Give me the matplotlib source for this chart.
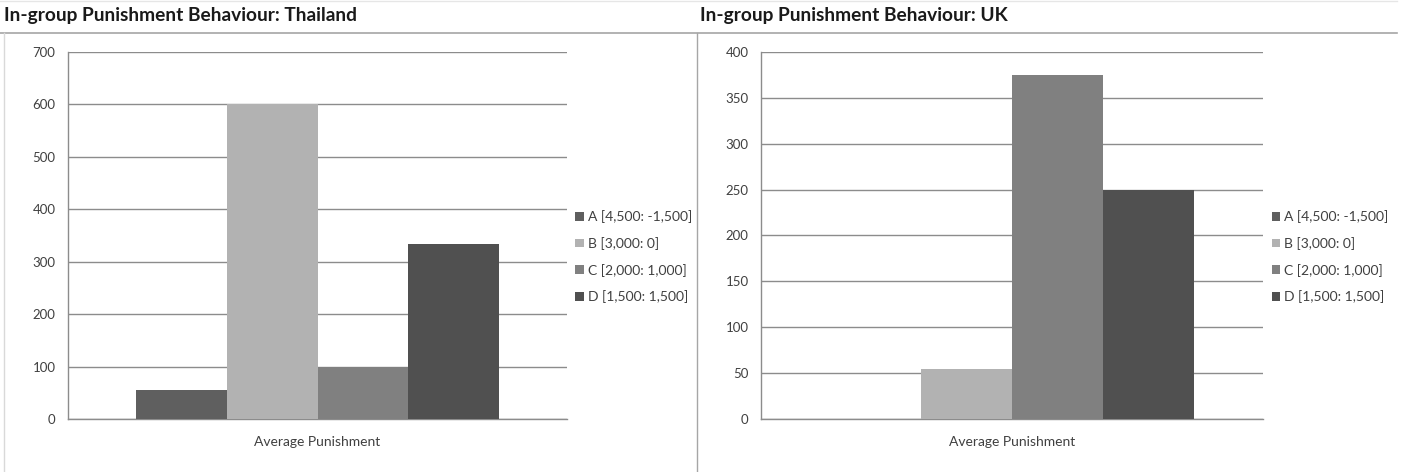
import matplotlib
matplotlib.use("Agg")
import matplotlib.pyplot as plt
from matplotlib.lines import Line2D
import numpy as np

plt.rcParams['font.family'] = ['Lato', 'DejaVu Sans']

# data
categories = ["Average Punishment"]
series_labels = ["A [4,500: -1,500]", "B [3,000: 0]", "C [2,000: 1,000]", "D [1,500: 1,500]"]
thailand_values = [55, 600, 100, 333]
uk_values = [0, 55, 375, 250]
colors = ["#5f5f5f", "#b2b2b2", "#808080", "#505050"]

W, H = 1403, 472
fig = plt.figure(figsize=(W / 100, H / 100), dpi=100)

grid_col = "#8c8c8c"
text_col = "#404040"


def px_axes(x0, x1, y0, y1):
    # pixel box (top-left origin) to figure fraction
    return [x0 / W, 1 - y1 / H, (x1 - x0) / W, (y1 - y0) / H]


def draw_panel(rect, values, ymax, step, title, title_x, legend_y):
    ax = fig.add_axes(rect)
    n = len(values)
    width = 0.727 / n
    x = np.arange(len(categories))
    for i, (v, lab, c) in enumerate(zip(values, series_labels, colors)):
        ax.bar(x + (i - (n - 1) / 2) * width, [v], width, color=c, label=lab, zorder=3)
    ax.set_xlim(-0.5, 0.5)
    ax.set_ylim(0, ymax)
    ax.set_yticks(np.arange(0, ymax + 1, step))
    ax.set_xticks(x)
    ax.set_xticklabels(categories)
    ax.tick_params(length=0, colors=text_col)
    ax.tick_params(axis='y', pad=9, labelsize=9.5)
    ax.tick_params(axis='x', pad=12, labelsize=10)
    ax.yaxis.grid(True, color=grid_col, linewidth=1)
    ax.set_axisbelow(True)
    for s in ["top", "right"]:
        ax.spines[s].set_visible(False)
    for s in ["left", "bottom"]:
        ax.spines[s].set_color(grid_col)
        ax.spines[s].set_linewidth(1)
    ax.legend(loc="center left", bbox_to_anchor=(1.017, legend_y), frameon=False,
              handlelength=0.6, handleheight=0.6, handletextpad=0.3,
              labelspacing=1.0, fontsize=10, labelcolor=text_col,
              borderaxespad=0, borderpad=0)
    fig.text(title_x / W, 1 - 15 / H, title, fontsize=13.8, fontweight="bold",
             color="#1a1a1a", va="center", ha="left")
    return ax


draw_panel(px_axes(68, 567, 52, 419), thailand_values, 700, 100,
           "In-group Punishment Behaviour: Thailand", 4, 0.442)
draw_panel(px_axes(761, 1263, 52, 419), uk_values, 400, 50,
           "In-group Punishment Behaviour: UK", 700, 0.442)

# frame lines of the two chart boxes
border = "#a6a6a6"
fig.add_artist(Line2D([0, 1397 / W], [1 - 33 / H, 1 - 33 / H], color=border, lw=1.2))
fig.add_artist(Line2D([4 / W, 4 / W], [0, 1 - 33 / H], color="#d9d9d9", lw=1))
fig.add_artist(Line2D([697 / W, 697 / W], [0, 1 - 33 / H], color=border, lw=1))
fig.add_artist(Line2D([0, 1397 / W], [1 - 1 / H, 1 - 1 / H], color="#e6e6e6", lw=1))

fig.savefig("out.png", dpi=100)
